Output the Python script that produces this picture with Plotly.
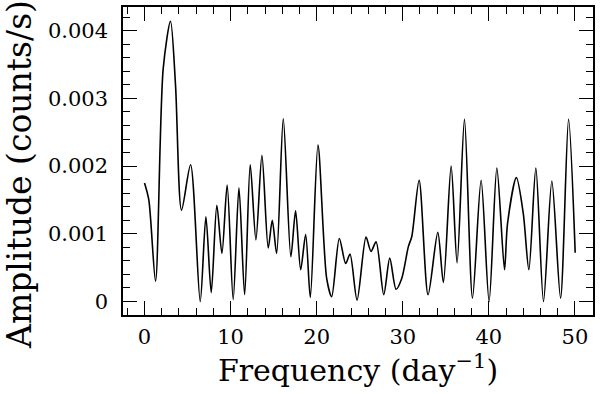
import plotly.graph_objects as go

# Periodogram: frequency (day^-1) and amplitude (counts/s)
freq = [0, 0.5, 1.28, 2.17, 3.02, 3.6, 4.3, 5.35, 6.47, 7.13, 7.75, 8.4, 8.99,
        9.6, 10.3, 10.97, 11.63, 12.28, 12.94, 13.64, 14.37, 14.84, 15.35,
        16.12, 17.0, 17.55, 18.14, 18.72, 19.26, 20.15, 21.16, 21.74, 22.63,
        23.37, 23.87, 24.69, 25.73, 26.31, 26.9, 27.79, 28.49, 29.22, 29.88,
        30.65, 31.05, 31.9, 32.94, 34.07, 34.72, 35.62, 36.31, 37.17, 38.1,
        39.1, 40.03, 40.93, 41.82, 42.17, 43.2, 44.0, 44.65, 45.46, 46.35,
        47.32, 48.33, 49.26, 50.03]
amp = [0.00175, 0.0015, 0.0003, 0.00344, 0.00414, 0.0032, 0.00135, 0.00202,
       0.0, 0.00125, 0.00013, 0.00142, 0.00071, 0.00172, 0.00003, 0.00168,
       0.0001, 0.00202, 0.00091, 0.00216, 0.00079, 0.0012, 0.00071, 0.0027,
       0.00066, 0.00134, 0.00047, 0.00099, 0.00006, 0.00231, 0.00034,
       0.00007, 0.00093, 0.00056, 0.0007, 0.00002, 0.00095, 0.00074,
       0.00088, 0.0001, 0.00064, 0.00018, 0.00034, 0.00081, 0.00096,
       0.00179, 0.0001, 0.00102, 0.00028, 0.002, 0.00057, 0.00269, 0.00005,
       0.00179, 0.0, 0.00197, 0.00047, 0.00115, 0.00183, 0.0013, 0.00047,
       0.00197, 0.0, 0.00178, 0.00005, 0.00269, 0.00072]

x_ticks = [0, 10, 20, 30, 40, 50]
y_ticks = [0, 0.001, 0.002, 0.003, 0.004]
y_labels = ['0', '0.001', '0.002', '0.003', '0.004']

font = 'DejaVu Serif'

fig = go.Figure()
fig.add_trace(go.Scatter(x=freq, y=amp, mode='lines',
                         line=dict(color='black', width=1.6, shape='spline', smoothing=0.8),
                         showlegend=False))

axis_common = dict(showline=True, linecolor='black', linewidth=1.5, mirror='allticks',
                   ticks='inside', ticklen=14, tickwidth=1.2, tickcolor='black',
                   showgrid=False, zeroline=False, automargin=False,
                   tickfont=dict(family=font, size=21, color='black'))

fig.update_layout(
    width=600, height=394,
    margin=dict(l=123, r=7, t=7, b=79),
    plot_bgcolor='white', paper_bgcolor='white',
    xaxis=dict(range=[-2.5, 52.1], tickvals=x_ticks,
               minor=dict(ticks='inside', ticklen=7, dtick=2, tick0=0, tickcolor='black'),
               title=dict(text='Frequency (day<sup>−1</sup>)', standoff=10,
                          font=dict(family=font, size=30, color='black')),
               ticklabelstandoff=2, **axis_common),
    yaxis=dict(range=[-0.0002, 0.00435], tickvals=y_ticks, ticktext=y_labels,
               minor=dict(ticks='inside', ticklen=7, dtick=0.0002, tick0=0, tickcolor='black'),
               ticklabelstandoff=9, **axis_common),
)

# y title as an annotation so it can sit a bit below the plot's centre, as in the original
fig.add_annotation(text='Amplitude (counts/s)', textangle=-90, showarrow=False,
                   xref='paper', yref='paper', x=-0.219, y=0.455,
                   xanchor='center', yanchor='middle',
                   font=dict(family=font, size=33, color='black'))

# drop the page's default body margin so the figure sits at the window's corner
fig.write_html('out.html', config={'displayModeBar': False},
               post_script="document.body.style.margin='0';")
